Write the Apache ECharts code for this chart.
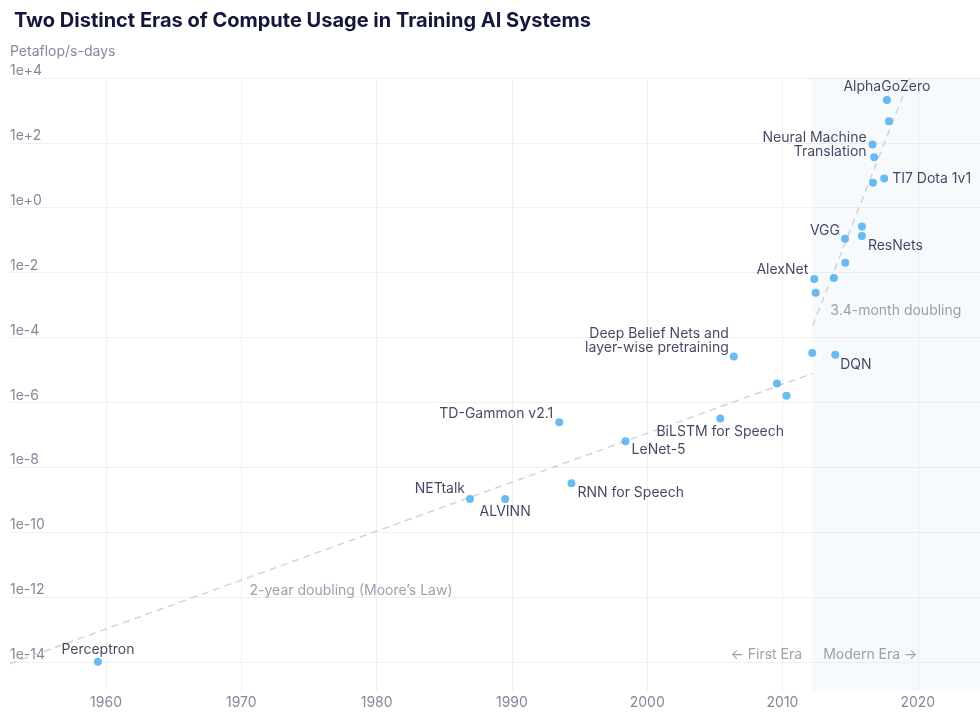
<!DOCTYPE html>
<html>
<head>
<meta charset="utf-8">
<script src="https://cdn.jsdelivr.net/npm/echarts@6/dist/echarts.min.js"></script>
<style>
  html, body { margin: 0; padding: 0; background: #fff; }
  #chart { width: 980px; height: 713px; }
</style>
</head>
<body>
<div id="chart"></div>
<script>
// systems (year, petaflop/s-days)
const names = ['Perceptron', 'NETtalk', 'ALVINN', 'TD-Gammon v2.1', 'RNN for Speech', 'LeNet-5',
  'BiLSTM for Speech', 'Deep Belief Nets and\nlayer-wise pretraining', '', '', '', 'DQN',
  'AlexNet', '', '', '', 'VGG', 'ResNets', '', 'AlphaGoZero', '',
  'Neural Machine\nTranslation', '', 'TI7 Dota 1v1', ''];
const years = [1959.4, 1986.9, 1989.5, 1993.5, 1994.4, 1998.4,
  2005.4, 2006.4, 2009.6, 2010.3, 2012.2, 2013.9,
  2012.35, 2012.45, 2013.8, 2014.64, 2014.62, 2015.87, 2015.87, 2017.72, 2017.87,
  2016.66, 2016.78, 2017.52, 2016.69];
const compute = [1e-14, 1.05e-9, 1.05e-9, 2.45e-7, 3.2e-9, 6.3e-8,
  3.2e-7, 2.6e-5, 3.8e-6, 1.6e-6, 3.3e-5, 2.95e-5,
  6.3e-3, 2.4e-3, 6.8e-3, 0.02, 0.11, 0.135, 0.266, 2090, 468,
  89, 36, 7.9, 5.9];

// trend lines
const mooreYears = [1952.9, 2012.26];
const mooreValues = [8.7e-15, 7.9e-6];
const modernYears = [2012.23, 2019.42];
const modernValues = [2.3e-4, 1e4];

// axis extents
const yearMin = 1952.9, yearMax = 2024.6;
const computeMin = 1.26e-15, computeMax = 1e4;
const modernEraStart = 2012.23;

// label placement per system
const labelPos = {
  'Perceptron': { position: 'top', distance: 1 },
  'NETtalk': { position: 'left', distance: 1, offset: [0, -10] },
  'ALVINN': { position: 'bottom', distance: 2 },
  'TD-Gammon v2.1': { position: 'left', distance: 2, offset: [0, -8] },
  'RNN for Speech': { position: 'right', distance: 2, offset: [0, 10] },
  'LeNet-5': { position: 'right', distance: 2, offset: [0, 9] },
  'BiLSTM for Speech': { position: 'bottom', distance: 2 },
  'Deep Belief Nets and\nlayer-wise pretraining': { position: 'left', distance: 1, offset: [0, -16] },
  'DQN': { position: 'right', distance: 1, offset: [0, 10] },
  'AlexNet': { position: 'left', distance: 2, offset: [0, -9] },
  'VGG': { position: 'left', distance: 1, offset: [0, -8] },
  'ResNets': { position: 'right', distance: 2, offset: [0, 10] },
  'AlphaGoZero': { position: 'top', distance: 2 },
  'Neural Machine\nTranslation': { position: 'left', distance: 2, align: 'right' },
  'TI7 Dota 1v1': { position: 'right', distance: 4 }
};

// annotation texts
const notes = [
  { text: '2-year doubling (Moore\u2019s Law)', at: [1970.57, 1.55e-12], position: 'right', distance: 0 },
  { text: '3.4-month doubling', at: [2013.5, 6.6e-4], position: 'right', distance: 0 },
  { text: '\u2190 First Era', at: [modernEraStart, 1.66e-14], position: 'left', distance: 10 },
  { text: 'Modern Era \u2192', at: [modernEraStart, 1.66e-14], position: 'right', distance: 10 }
];

const FONT = 'Inter, "Noto Sans", sans-serif';
const GREY = '#85879a';
const INK = '#15173a';

const points = years.map((y, i) => {
  const name = names[i];
  const item = { name, value: [y, compute[i]] };
  if (name) {
    item.label = Object.assign({ show: true, formatter: '{b}' }, labelPos[name]);
  }
  return item;
});

const chart = echarts.init(document.getElementById('chart'));
chart.setOption({
  animation: false,
  textStyle: { fontFamily: FONT },
  title: {
    text: 'Two Distinct Eras of Compute Usage in Training AI Systems',
    left: 9, top: 6,
    textStyle: { fontFamily: FONT, fontSize: 20, fontWeight: 700, color: INK }
  },
  grid: { left: 10, right: 0, top: 78, bottom: 22, containLabel: false },
  xAxis: {
    type: 'value',
    min: yearMin, max: yearMax,
    axisLine: { show: false },
    axisTick: { show: false },
    axisLabel: {
      color: GREY, fontSize: 14, margin: 5, showMinLabel: false, showMaxLabel: false,
      formatter: v => String(v)
    },
    splitLine: { lineStyle: { color: '#eef0f2' }, showMinLine: false, showMaxLine: false }
  },
  yAxis: {
    type: 'log',
    logBase: 100,
    min: computeMin, max: computeMax,
    name: 'Petaflop/s-days',
    nameLocation: 'end',
    nameGap: 19,
    nameTextStyle: { color: GREY, fontSize: 14, align: 'left', verticalAlign: 'bottom' },
    axisLine: { show: false },
    axisTick: { show: false },
    axisLabel: {
      inside: true, margin: 0, color: GREY, fontSize: 14,
      verticalAlign: 'bottom', align: 'left', padding: [0, 0, 0, 0],
      showMinLabel: false,
      formatter: v => {
        const e = Math.round(Math.log10(v));
        return '1e' + (e >= 0 ? '+' : '-') + Math.abs(e);
      }
    },
    splitLine: { lineStyle: { color: '#eef0f2' }, showMinLine: false }
  },
  series: [
    {
      type: 'line',
      name: 'moore',
      data: mooreYears.map((y, i) => [y, mooreValues[i]]),
      symbol: 'none',
      silent: true,
      lineStyle: { color: '#d3d4da', width: 1.5, type: [7, 5] },
      markArea: {
        silent: true,
        itemStyle: { color: 'rgba(205,225,235,0.17)' },
        data: [[
          { coord: [modernEraStart, computeMin] },
          { coord: [yearMax, computeMax] }
        ]]
      },
      z: 3
    },
    {
      type: 'line',
      name: 'modern',
      data: modernYears.map((y, i) => [y, modernValues[i]]),
      symbol: 'none',
      silent: true,
      lineStyle: { color: '#d3d4da', width: 1.5, type: [7, 5] },
      z: 3
    },
    {
      type: 'scatter',
      name: 'notes',
      silent: true,
      symbolSize: 1,
      itemStyle: { color: 'rgba(0,0,0,0)' },
      data: notes.map(n => ({
        name: n.text,
        value: n.at,
        label: { show: true, formatter: '{b}', position: n.position, distance: n.distance, color: GREY, fontSize: 14 }
      }))
    },
    {
      type: 'scatter',
      name: 'systems',
      symbolSize: 8,
      itemStyle: { color: '#42aaf0' },
      label: { color: INK, fontSize: 14, lineHeight: 14 },
      data: points,
      z: 5
    }
  ]
});
</script>
</body>
</html>
